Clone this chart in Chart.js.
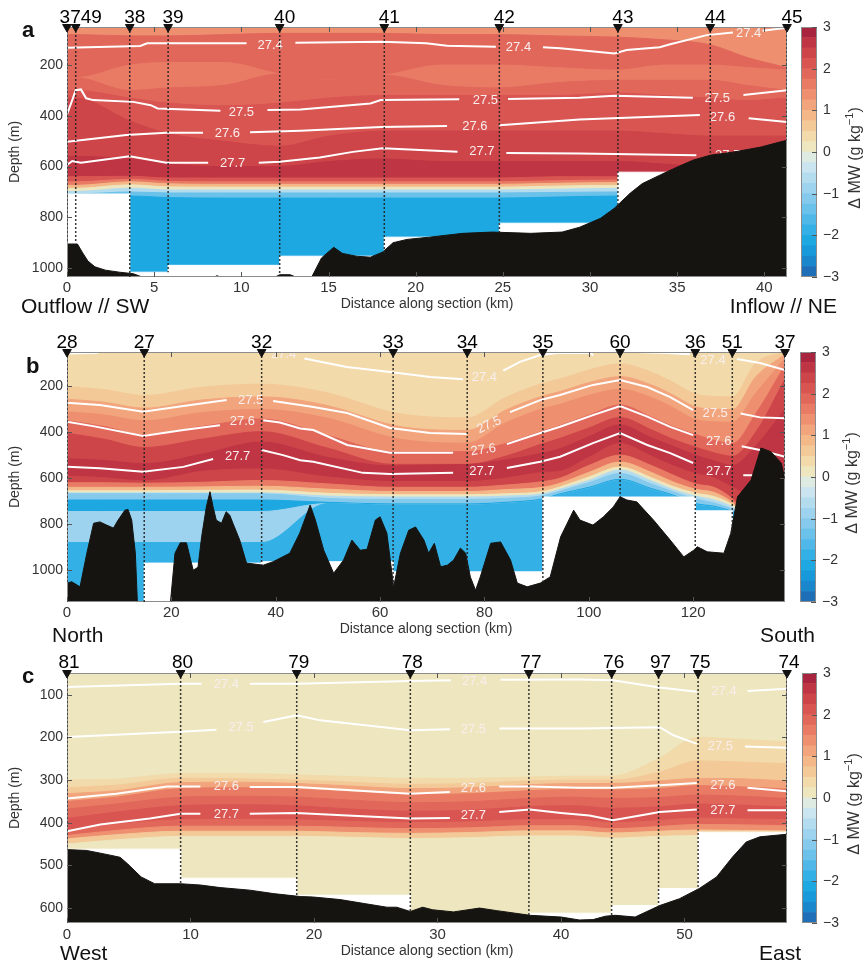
<!DOCTYPE html>
<html>
<head>
<meta charset="utf-8">
<title>MW sections</title>
<script src="https://cdn.jsdelivr.net/npm/chart.js@4.4.1/dist/chart.umd.min.js"></script>
<style>
  body { margin: 0; background: #fff; }
  #page { position: relative; width: 865px; height: 965px; overflow: hidden; }
  #page canvas { position: absolute; }
</style>
</head>
<body>
<div id="page">
  <canvas id="secA" width="865" height="320" style="left:0;top:0"></canvas>
  <canvas id="secB" width="865" height="330" style="left:0;top:320px"></canvas>
  <canvas id="secC" width="865" height="315" style="left:0;top:650px"></canvas>
  <canvas id="cbA" width="75" height="320" style="left:790px;top:0"></canvas>
  <canvas id="cbB" width="75" height="330" style="left:790px;top:320px"></canvas>
  <canvas id="cbC" width="75" height="315" style="left:790px;top:650px"></canvas>
</div>
<script>
const FONT = "'Liberation Sans', Arial, Helvetica, sans-serif";
Chart.defaults.font.family = FONT;
Chart.defaults.color = '#333';

// colour scale, from -3 up to +3 g/kg in 0.25 steps
const cbEdges = [-3, -2.75, -2.5, -2.25, -2, -1.75, -1.5, -1.25, -1, -0.75, -0.5, -0.25, 0,
                 0.25, 0.5, 0.75, 1, 1.25, 1.5, 1.75, 2, 2.25, 2.5, 2.75, 3];
const cbColors = ['#1f6fb8', '#1a86cc', '#189ada', '#1da8e2', '#33b0e6', '#4fb8e8', '#6ac1ea', '#85caec',
                  '#9dd3ee', '#b4dcef', '#cae5ef', '#ddebe2', '#eee6be', '#f2daaa', '#f4c998', '#f4b888',
                  '#f2a57c', '#ee9070', '#e97b65', '#e2675b', '#d95552', '#ce4549', '#bf3544', '#a8243f'];
const cbTicks = [-3, -2, -1, 0, 1, 2, 3];

// ---------- panel a ----------
const aDistTicks = [0, 5, 10, 15, 20, 25, 30, 35, 40];
const aDepthTicks = [200, 400, 600, 800, 1000];
const aStationX = [0, 0.5, 3.6, 5.8, 12.2, 18.2, 24.8, 31.6, 36.9, 41.3];
const aStationLabels = ['', '3749', '38', '39', '40', '41', '42', '43', '44', '45'];
const aStationBottom = [898, 898, 1035, 1016, 1030, 942, 858, 764, 555, 496];

const aBandX = [0, 0.5, 3.6, 5.8, 9, 12.2, 15, 18.2, 21.5, 24.8, 28, 31.6, 34.2, 36.9, 39, 41.3];
const aBandLevels = [1.4, 1.9, 1.55, 1.9, 2.1, 2.3, 2.55, 2.2, 1.6, 0.8, 0.1, -0.6, -1.4, -2.15];
const aBandDepths = [
  [50, 50, 50, 50, 50, 50, 50, 50, 50, 50, 50, 50, 50, 50, 50, 50],
  [80, 80, 85, 85, 80, 75, 75, 75, 80, 80, 85, 90, 100, 120, 170, 210],
  [250, 250, 200, 190, 190, 235, 260, 240, 200, 200, 210, 220, 200, 200, 210, 220],
  [250, 250, 300, 290, 280, 235, 260, 240, 280, 290, 270, 260, 260, 260, 280, 300],
  [300, 300, 330, 350, 360, 350, 330, 320, 320, 320, 320, 310, 320, 330, 340, 330],
  [330, 330, 420, 470, 500, 520, 480, 460, 460, 460, 460, 460, 470, 480, 480, 480],
  [560, 560, 570, 590, 600, 600, 580, 570, 580, 580, 580, 580, 590, 600, 600, 600],
  [640, 640, 638, 645, 645, 645, 645, 645, 645, 645, 640, 640, 640, 640, 640, 640],
  [660, 660, 650, 658, 660, 660, 660, 660, 660, 660, 656, 653, 653, 653, 653, 653],
  [674, 674, 660, 668, 670, 670, 670, 670, 670, 670, 666, 663, 663, 663, 663, 663],
  [686, 686, 672, 680, 681, 681, 681, 681, 681, 681, 677, 674, 674, 674, 674, 674],
  [698, 698, 685, 692, 692, 692, 692, 692, 692, 692, 689, 686, 686, 686, 686, 686],
  [708, 708, 700, 704, 704, 704, 704, 704, 704, 704, 702, 700, 700, 700, 700, 700],
  [720, 720, 716, 722, 724, 724, 724, 724, 724, 724, 720, 716, 716, 716, 716, 716]
];

const aC274 = [[0, 132], [4.2, 125], [4.6, 114], [10.3, 114], [10.3, null], [13.1, 112], [18.1, 108], [20.6, 114],
  [21.8, 124], [24.6, 128], [24.6, null], [27.3, 130], [28.3, 134], [31.4, 154], [32.1, 141], [34, 130], [34.6, 118],
  [36.7, 82], [38.2, 72], [38.2, null], [39.9, 65], [41.3, 53]];
const aC275 = [[0, 394], [0.3, 338], [0.5, 299], [0.8, 296], [1.1, 331], [1.5, 338], [3.8, 345], [4.8, 358], [5.2, 371],
  [8.8, 380], [8.8, null], [11.5, 377], [13.4, 375], [17.4, 351], [18, 338], [22.5, 335], [22.5, null], [25.3, 334],
  [29.4, 329], [31.4, 321], [35.9, 329], [35.9, null], [38.8, 318], [41.3, 299]];
const aC276 = [[0, 502], [3.4, 476], [5.7, 467], [7.8, 467], [7.8, null], [10.5, 465], [13.4, 459], [18, 444], [21.8, 440],
  [21.8, null], [24.8, 437], [29.4, 414], [36.3, 397], [36.3, null], [39.1, 410], [41.3, 424]];
const aC277 = [[0, 594], [0.3, 578], [0.8, 585], [3.6, 559], [5.7, 585], [8.1, 585], [8.1, null], [11, 585], [12.2, 581],
  [14.5, 564], [16.4, 542], [18.1, 528], [22.4, 542], [22.4, null], [25.2, 546], [29.4, 548], [36.1, 555]];
const aContourLabels = [[11.65, 121, '27.4'], [25.9, 131, '27.4'], [39.1, 75, '27.4'],
  [10.0, 387, '27.5'], [24.0, 338, '27.5'], [37.3, 331, '27.5'],
  [9.2, 468, '27.6'], [23.4, 443, '27.6'], [37.6, 406, '27.6'],
  [9.5, 588, '27.7'], [23.8, 542, '27.7'], [37.9, 556, '27.7']];

const aMaskX = [0, 3.6, 5.8, 12.2, 18.2, 24.8, 31.6, 41.3];
const aMaskY = [708, 1016, 989, 953, 878, 823, 622, 622];
const aBathy = [[0, 905], [0.6, 905], [0.9, 940], [1.2, 972], [1.6, 995], [2.2, 1008], [3, 1016], [3.8, 1022], [4.5, 1040],
  [8.3, 1040], [8.6, 1030], [9, 1040], [11.8, 1040], [12.2, 1026], [12.8, 1026], [13.3, 1040], [14, 1040], [14.6, 960],
  [15.3, 918], [15.8, 942], [16.6, 953], [17.4, 957], [18.1, 937], [18.7, 900], [19.5, 887], [20.8, 878], [22.7, 863],
  [24.4, 858], [26.6, 863], [28.4, 858], [29.4, 839], [30.6, 804], [31.4, 764], [32.3, 705], [33, 667], [34, 634],
  [35, 602], [35.9, 575], [36.9, 555], [38.2, 543], [39.8, 523], [40.9, 503], [41.3, 496]];

// ---------- panel b ----------
const bDistTicks = [0, 20, 40, 60, 80, 100, 120];
const bDepthTicks = [200, 400, 600, 800, 1000];
const bStationX = [0, 14.8, 37.3, 62.5, 76.7, 91.2, 106, 120.4, 127.5, 137.6];
const bStationLabels = ['28', '27', '32', '33', '34', '35', '60', '36', '51', '37'];
const bStationBottom = [1056, 1138, 975, 1072, 1000, 1045, 681, 898, 840, 608];

const bBandX = [0, 7, 14.8, 26, 37.3, 50, 62.5, 70, 76.7, 84, 91.2, 94.5, 100, 106, 112, 116, 120.4, 124, 127.5, 132, 137.6];
const bBandLevels = [0.35, 0.7, 1.1, 1.4, 1.95, 2.3, 2.55, 2.3, 1.6, 0.85, 0.1, -0.6, -1.1, -2.05, -0.8, -1.9];
const bBandDepths = [
  [52, 52, 52, 52, 52, 52, 52, 52, 52, 52, 52, 52, 52, 52, 52, 52, 52, 52, 52, 52, 52],
  [202, 215, 241, 205, 192, 230, 315, 335, 338, 250, 188, 169, 130, 104, 140, 182, 235, 245, 247, 100, 52],
  [257, 270, 296, 260, 247, 285, 370, 390, 393, 305, 243, 224, 185, 159, 195, 237, 290, 300, 302, 160, 62],
  [312, 325, 351, 315, 302, 340, 425, 445, 448, 360, 298, 279, 240, 214, 250, 292, 345, 355, 357, 230, 80],
  [350, 375, 412, 375, 343, 415, 485, 485, 485, 450, 395, 372, 327, 282, 335, 375, 410, 435, 450, 320, 110],
  [405, 430, 467, 430, 398, 470, 540, 540, 540, 505, 450, 427, 382, 337, 390, 430, 465, 490, 505, 400, 170],
  [516, 523, 537, 495, 443, 510, 547, 543, 541, 521, 491, 472, 420, 369, 425, 460, 500, 525, 545, 460, 300],
  [591, 598, 612, 570, 560, 595, 615, 615, 615, 600, 575, 570, 510, 450, 505, 545, 580, 600, 640, 700, 800],
  [620, 620, 622, 618, 610, 625, 640, 640, 640, 630, 615, 600, 545, 500, 545, 585, 625, 640, 690, 800, 800],
  [640, 640, 640, 638, 635, 648, 658, 658, 658, 650, 640, 622, 575, 530, 575, 615, 648, 662, 705, 800, 800],
  [655, 655, 655, 653, 652, 666, 672, 672, 672, 668, 658, 638, 595, 552, 598, 635, 665, 680, 715, 800, 800],
  [664, 664, 664, 664, 664, 678, 682, 682, 682, 678, 668, 648, 610, 565, 612, 648, 678, 695, 725, 800, 800],
  [668, 668, 668, 668, 668, 688, 692, 692, 692, 688, 676, 656, 620, 580, 625, 658, 690, 708, 735, 800, 800],
  [695, 695, 695, 695, 695, 705, 712, 712, 712, 705, 690, 668, 640, 605, 645, 672, 710, 722, 745, 800, 800],
  [745, 745, 745, 745, 745, 710, 717, 717, 717, 710, 695, 673, 645, 610, 650, 677, 715, 727, 750, 805, 805],
  [880, 880, 880, 880, 880, 710, 717, 717, 717, 710, 695, 673, 645, 610, 650, 677, 715, 727, 750, 805, 805]
];

const bC274 = [[0, 58], [6, 55], [6, null], [45.5, 80], [53.6, 117], [61.9, 139], [69.6, 161], [75.9, 170], [75.9, null],
  [83.6, 133], [86.8, 95], [90.7, 65], [93.9, 56], [100.4, 55], [100.8, 68], [100.8, null], [110, 53], [115, 56],
  [119.4, 62], [119.4, null], [128.4, 82], [132.8, 100], [137.6, 130]];
const bC275 = [[0, 272], [6.3, 282], [14.6, 311], [22.3, 287], [30.6, 261], [30.6, null], [39.5, 265], [44.7, 282],
  [47.2, 291], [53.7, 317], [61.9, 382], [69.6, 404], [76.7, 408], [76.7, null], [84.9, 313], [90.7, 261], [94.5, 239],
  [100.8, 195], [106, 174], [111.2, 204], [115.6, 248], [120, 304], [120, null], [129.1, 319], [132.8, 336], [137.6, 340]];
const bC276 = [[0, 355], [5, 374], [14.6, 417], [22.3, 391], [29.3, 370], [29.3, null], [37.6, 348], [40.8, 358],
  [44.7, 384], [47.2, 391], [53.7, 456], [61.9, 490], [74, 490], [74, null], [84.3, 452], [90.7, 404], [94.5, 377],
  [100.8, 326], [106, 287], [111.2, 333], [115.6, 377], [120, 413], [120, null], [129.3, 461], [132.8, 478], [137.6, 507]];
const bC277 = [[0, 551], [6.3, 557], [14.6, 572], [22.3, 551], [28, 517], [28, null], [37.3, 478], [41.4, 500],
  [44.7, 522], [47.2, 529], [56.7, 577], [61.9, 582], [74, 577], [74, null], [84.3, 556], [90.7, 529], [94.5, 507],
  [100.8, 448], [106, 404], [111.2, 456], [115.6, 491], [120, 534], [120, null], [129.6, 587], [133, 587]];
const bContourLabels = [[41.5, 62, '27.4'], [80, 163, '27.4'], [123.8, 87, '27.4'],
  [35.2, 261, '27.5'], [80.9, 369, '27.5', -25], [124.2, 318, '27.5'],
  [33.6, 355, '27.6'], [79.8, 478, '27.6', -8], [124.9, 442, '27.6'],
  [32.7, 507, '27.7'], [79.5, 572, '27.7'], [124.9, 572, '27.7']];

const bMaskX = [0, 14.8, 37.3, 62.5, 91.2, 120.4, 127.5, 137.6];
const bMaskY = [1145, 969, 963, 1007, 682, 742, 1145, 1145];
const bBathy = [[0, 1056], [0.9, 1050], [2.5, 1072], [3.8, 926], [5.1, 796], [6.3, 790], [7.6, 804], [8.9, 817],
  [9.8, 782], [11.1, 739], [11.7, 736], [12.4, 782], [13.1, 926], [13.5, 1145], [19.8, 1145], [20.7, 926], [21.7, 881],
  [22.9, 881], [23.7, 956], [24.2, 1000], [25.1, 987], [25.8, 855], [26.7, 725], [27.4, 659], [28, 725], [28.6, 782],
  [29.6, 796], [30.5, 746], [31.2, 761], [31.8, 796], [33.1, 869], [34.4, 969], [37.6, 978], [39.5, 963], [42.7, 926],
  [44.6, 839], [45.3, 796], [46.6, 717], [47.6, 782], [49.2, 913], [51.1, 1013], [53, 956], [54.6, 869], [56.2, 913],
  [57.5, 909], [59.1, 782], [60, 768], [61.3, 839], [62.6, 1072], [63.9, 926], [65.5, 826], [66.8, 812], [68.4, 869],
  [69.3, 926], [70.4, 883], [71.6, 985], [72.9, 978], [74.1, 956], [75.4, 904], [76.4, 926], [77.3, 1029], [78.3, 1087],
  [79.2, 1029], [81.2, 883], [83.1, 877], [85, 956], [86.3, 1056], [88.2, 1072], [90.7, 1056], [92.6, 1029], [94.6, 855],
  [97.1, 739], [98.3, 782], [100.8, 804], [102.8, 768], [104.7, 725], [106, 681], [107.3, 695], [109.2, 703],
  [112.4, 782], [115.6, 869], [118.2, 942], [120.1, 913], [120.8, 898], [122.7, 920], [125.9, 926], [127.2, 840],
  [128.5, 681], [131.1, 608], [133, 469], [134.9, 485], [136.9, 535], [137.6, 608]];

// ---------- panel c ----------
const cDistTicks = [0, 10, 20, 30, 40, 50];
const cDepthTicks = [100, 200, 300, 400, 500, 600];
const cStationX = [0, 9.2, 18.6, 27.8, 37.4, 44.1, 47.9, 51.1, 58.3];
const cStationLabels = ['81', '80', '79', '78', '77', '76', '97', '75', '74'];
const cStationBottom = [463, 545, 573, 608, 617, 619, 594, 554, 427];

const cBandX = [0, 4, 9.2, 14, 18.6, 23, 27.8, 32.6, 37.4, 41, 44.1, 47.9, 51.1, 54.7, 58.3];
const cBandLevels = [0.1, 0.4, 0.65, 1.1, 1.6, 1.95, 2.2, 1.9, 1.3, 0.65, 0.1];
const cBandDepths = [
  [49, 49, 49, 49, 49, 49, 49, 49, 49, 49, 49, 49, 49, 49, 49],
  [300, 298, 285, 285, 288, 292, 296, 296, 293, 291, 291, 250, 200, 205, 210],
  [318, 312, 296, 297, 300, 305, 310, 308, 302, 300, 300, 282, 255, 258, 262],
  [332, 325, 306, 305, 308, 314, 320, 318, 311, 308, 308, 302, 296, 297, 302],
  [350, 340, 320, 318, 321, 328, 334, 332, 325, 322, 323, 320, 313, 316, 321],
  [368, 356, 340, 338, 340, 347, 353, 351, 343, 340, 343, 341, 335, 338, 343],
  [390, 375, 360, 358, 360, 368, 373, 371, 362, 360, 366, 363, 356, 359, 363],
  [418, 404, 393, 392, 393, 397, 400, 398, 393, 393, 400, 395, 389, 391, 393],
  [430, 418, 408, 408, 408, 411, 414, 412, 407, 407, 414, 409, 404, 405, 407],
  [438, 428, 420, 420, 420, 423, 425, 423, 419, 419, 424, 420, 417, 418, 419],
  [450, 440, 432, 432, 432, 434, 437, 435, 431, 431, 436, 432, 430, 430, 431]
];

const cC274 = [[0, 82], [9.2, 74], [10.9, 74], [10.9, null], [14.8, 74], [18.6, 74], [27.8, 68], [31.1, 66], [31.1, null],
  [35.1, 65], [41.5, 64.5], [44.2, 66], [48, 83], [51, 93], [51, null], [55.1, 91], [58.3, 86]];
const cC275 = [[0, 199], [9.2, 187], [12.1, 182], [12.1, null], [15.9, 164], [18.6, 148], [20.5, 160], [27.8, 183],
  [31, 181], [31, null], [35, 179], [41.5, 179], [48, 176], [49.1, 195], [51, 215], [51, null], [54.9, 221], [58.3, 224]];
const cC276 = [[0, 343], [4, 332], [8.1, 315], [10.8, 315], [10.8, null], [14.8, 316], [18.6, 316], [27.8, 332], [31, 328],
  [31, null], [35, 315], [37.5, 315], [41.5, 318], [44.2, 318], [48, 312], [51, 307], [51, null], [55.1, 318], [58.3, 326]];
const cC277 = [[0, 420], [2.7, 404], [6.7, 390], [9.2, 379], [10.8, 379], [10.8, null], [14.8, 379], [18.6, 377],
  [22.7, 383], [27.8, 390], [31, 389], [31, null], [35, 375], [37.5, 369], [40, 377], [42.3, 383], [44.2, 394],
  [46.4, 383], [48, 375], [51, 369], [51, null], [55.1, 371], [58.3, 371]];
const cContourLabels = [[12.9, 76, '27.4'], [33, 68, '27.4'], [53.2, 93, '27.4'],
  [14.1, 177, '27.5'], [32.9, 181, '27.5'], [52.9, 220, '27.5'],
  [12.9, 316, '27.6'], [32.9, 320, '27.6'], [53.1, 312, '27.6'],
  [12.9, 380, '27.7'], [32.9, 383, '27.7'], [53.1, 372, '27.7']];

const cMaskX = [0, 9.2, 18.6, 27.8, 37.4, 44.1, 47.9, 51.1, 58.3];
const cMaskY = [462, 530, 570, 640, 612, 594, 554, 422, 422];
const cBathy = [[0, 463], [1.6, 465], [3.5, 476], [4.3, 481], [4.9, 496], [6, 527], [7.1, 543], [9.2, 543], [10.8, 546],
  [12.4, 552], [14.8, 558], [16.7, 566], [18.9, 573], [19.9, 574], [22.1, 580], [24.2, 590], [25.9, 598], [26.7, 598],
  [27.8, 608], [28.8, 598], [29.6, 604], [31.3, 609], [33.4, 600], [34.8, 606], [37.5, 617], [40, 621], [41.5, 628],
  [42.6, 627], [43.6, 619], [44.4, 617], [46, 621], [48, 594], [49.6, 578], [51.2, 554], [52.6, 527], [53.9, 480],
  [55, 445], [56.1, 433], [58.3, 427]];

// ---------- helpers ----------
function levelColor(v) {
  let i = Math.floor((v - cbEdges[0]) / 0.25);
  i = Math.max(0, Math.min(cbColors.length - 1, i));
  return cbColors[i];
}
function pts(xs, ys) { return xs.map((x, i) => ({x: x, y: ys[i]})); }
function pairs(list) { return list.map(p => ({x: p[0], y: p[1]})); }

function labelPlugin(items, afterIndex) {
  return {
    id: 'contourLabels',
    afterDatasetDraw(chart, args) {
      if (args.index !== afterIndex) return;
      const {ctx, chartArea: a, scales} = chart;
      ctx.save();
      ctx.beginPath(); ctx.rect(a.left, a.top, a.width, a.height); ctx.clip();
      ctx.font = '13px ' + FONT;
      ctx.fillStyle = '#f8eeee';
      ctx.textAlign = 'center';
      ctx.textBaseline = 'middle';
      items.forEach(it => {
        ctx.save();
        ctx.translate(scales.x.getPixelForValue(it[0]), scales.y.getPixelForValue(it[1]));
        if (it[3]) ctx.rotate(it[3] * Math.PI / 180);
        ctx.fillText(it[2], 0, 0);
        ctx.restore();
      });
      ctx.restore();
    }
  };
}

// box round the plot with small inward ticks
function framePlugin(afterIndex, sides) {
  function draw(chart) {
    const {ctx, chartArea: a} = chart;
    ctx.save();
    ctx.strokeStyle = '#8c8c8c';
    ctx.lineWidth = 1;
    ctx.strokeRect(a.left + 0.5, a.top + 0.5, a.width - 1, a.height - 1);
    ctx.strokeStyle = '#555';
    ctx.beginPath();
    if (sides.x) {
      const sx = chart.scales.x;
      sx.ticks.forEach(t => {
        const px = Math.round(sx.getPixelForValue(t.value)) + 0.5;
        ctx.moveTo(px, a.top); ctx.lineTo(px, a.top + 5);
        ctx.moveTo(px, a.bottom); ctx.lineTo(px, a.bottom - 5);
      });
    }
    if (sides.y) {
      const sy = chart.scales.y;
      sy.ticks.forEach(t => {
        const py = Math.round(sy.getPixelForValue(t.value)) + 0.5;
        if (sides.y !== 'right') { ctx.moveTo(a.left, py); ctx.lineTo(a.left + 5, py); }
        ctx.moveTo(a.right, py); ctx.lineTo(a.right - 5, py);
      });
    }
    ctx.stroke();
    ctx.restore();
  }
  return {
    id: 'frame',
    afterDatasetDraw(chart, args) { if (args.index === afterIndex) draw(chart); },
    afterDatasetsDraw(chart) { if (afterIndex < 0) draw(chart); }
  };
}

function decorPlugin(texts) {
  return {
    id: 'decor',
    afterDraw(chart) {
      const ctx = chart.ctx;
      ctx.save();
      ctx.fillStyle = '#111';
      ctx.textBaseline = 'alphabetic';
      texts.forEach(t => {
        ctx.font = t.font;
        ctx.textAlign = t.align;
        ctx.fillText(t.text, t.x, t.y);
      });
      ctx.restore();
    }
  };
}

function buildDatasets(p) {
  const sets = [];
  p.bandDepths.forEach((depths, k) => {
    const c = levelColor(p.bandLevels[k]);
    sets.push({data: pts(p.bandX, depths), backgroundColor: c, borderColor: c, borderWidth: 1,
      fill: {value: p.yMax}, cubicInterpolationMode: 'monotone', pointRadius: 0});
  });
  p.contours.forEach(line => {
    sets.push({data: pairs(line), borderColor: '#ffffff', borderWidth: 2, fill: false, pointRadius: 0});
  });
  const labelIndex = sets.length - 1;
  // no-data area below the deepest cast
  sets.push({data: pts(p.maskX, p.maskY), stepped: true, backgroundColor: '#ffffff', borderColor: '#ffffff',
    borderWidth: 1, fill: {value: p.yMax}, pointRadius: 0});
  sets.push({data: pairs(p.bathy), backgroundColor: '#151411', borderColor: '#151411', borderWidth: 1,
    fill: {value: p.yMax}, pointRadius: 0});
  const bathyIndex = sets.length - 1;
  const dots = [];
  p.stX.forEach((x, i) => { dots.push({x: x, y: p.yMin}, {x: x, y: p.stBottom[i]}, {x: x, y: null}); });
  sets.push({data: dots, borderColor: 'rgba(35,35,35,0.9)', borderWidth: 1.5, borderDash: [2, 2], fill: false, pointRadius: 0});
  sets.push({data: p.stX.map(x => ({x: x, y: p.yMin})), showLine: false, pointStyle: 'triangle', pointRotation: 180,
    pointRadius: 5, backgroundColor: '#111', borderColor: '#111', borderWidth: 1, clip: false});
  sets.forEach((s, i) => { s.order = sets.length - i; s.xAxisID = 'x'; s.yAxisID = 'y'; });
  return {sets: sets, labelIndex: labelIndex, bathyIndex: bathyIndex};
}

function section(id, p) {
  const built = buildDatasets(p);
  return new Chart(document.getElementById(id), {
    type: 'line',
    data: {datasets: built.sets},
    options: {
      responsive: false,
      animation: false,
      events: [],
      layout: {padding: {left: 0, right: p.box.right, top: 0, bottom: 0}},
      plugins: {legend: {display: false}, tooltip: {enabled: false}},
      scales: {
        x: {
          type: 'linear', position: 'bottom', min: 0, max: p.xMax,
          afterBuildTicks: s => { s.ticks = p.xTicks.map(v => ({value: v})); },
          ticks: {callback: v => String(v), font: {size: 15}, color: '#333', padding: p.tickPad, maxRotation: 0, autoSkip: false},
          grid: {display: false, drawTicks: false},
          border: {display: false},
          title: {display: true, text: 'Distance along section (km)', font: {size: 14}, color: '#333',
            padding: {top: 0, bottom: p.titlePad}},
          afterFit: s => { s.height = p.box.bottom; }
        },
        xs: {
          type: 'linear', position: 'top', min: 0, max: p.xMax,
          afterBuildTicks: s => { s.ticks = p.stX.map(v => ({value: v})); },
          ticks: {callback: (v, i) => p.stLabels[i], font: {size: 19, lineHeight: 1}, color: '#000',
            padding: p.stPad, labelOffset: p.stOffset, maxRotation: 0, autoSkip: false},
          grid: {display: false, drawTicks: false},
          border: {display: false},
          afterFit: s => { s.height = p.box.top; }
        },
        y: {
          type: 'linear', reverse: true, min: p.yMin, max: p.yMax,
          afterBuildTicks: s => { s.ticks = p.yTicks.map(v => ({value: v})); },
          ticks: {callback: v => String(v), font: {size: 14}, color: '#333', padding: 4, autoSkip: false},
          grid: {display: false, drawTicks: false},
          border: {display: false},
          title: {display: true, text: 'Depth (m)', font: {size: 14}, color: '#333', padding: {top: 7, bottom: 0}},
          afterFit: s => { s.width = 67; }
        }
      }
    },
    plugins: [labelPlugin(p.labels, built.labelIndex), framePlugin(built.bathyIndex, {x: true, y: true}), decorPlugin(p.texts)]
  });
}

function colorbar(id, pad, titleX) {
  return new Chart(document.getElementById(id), {
    type: 'bar',
    data: {
      labels: [''],
      datasets: cbColors.map((c, i) => ({
        data: [[cbEdges[i], cbEdges[i + 1]]], backgroundColor: c, borderWidth: 0,
        grouped: false, barPercentage: 1, categoryPercentage: 1
      }))
    },
    options: {
      responsive: false,
      animation: false,
      events: [],
      layout: {padding: {left: pad.left, top: pad.top, bottom: pad.bottom, right: 0}},
      plugins: {legend: {display: false}, tooltip: {enabled: false}},
      scales: {
        x: {display: false},
        y: {
          position: 'right', min: -3, max: 3,
          afterBuildTicks: s => { s.ticks = cbTicks.map(v => ({value: v})); },
          ticks: {callback: v => (v < 0 ? '\u2212' + Math.abs(v) : String(v)), font: {size: 14}, color: '#333', padding: 6},
          grid: {display: false, drawTicks: false},
          border: {display: false},
          afterFit: s => { s.width = pad.axis; }
        }
      }
    },
    plugins: [framePlugin(-1, {y: 'right'}), {
      id: 'cbTitle',
      afterDraw(chart) {
        const ctx = chart.ctx, a = chart.chartArea;
        const main = '\u0394 MW (g kg', sup = '\u22121', end = ')';
        ctx.save();
        ctx.translate(titleX, (a.top + a.bottom) / 2 + 6);
        ctx.rotate(-Math.PI / 2);
        ctx.fillStyle = '#333';
        ctx.textBaseline = 'middle';
        ctx.textAlign = 'left';
        ctx.font = '16px ' + FONT;
        const w1 = ctx.measureText(main).width, w3 = ctx.measureText(end).width;
        ctx.font = '11px ' + FONT;
        const w2 = ctx.measureText(sup).width;
        let x = -(w1 + w2 + w3) / 2;
        ctx.font = '16px ' + FONT; ctx.fillText(main, x, 0); x += w1;
        ctx.font = '11px ' + FONT; ctx.fillText(sup, x, -6); x += w2;
        ctx.font = '16px ' + FONT; ctx.fillText(end, x, 0);
        ctx.restore();
      }
    }]
  });
}

const bigFont = '21px ' + FONT, letterFont = 'bold 22px ' + FONT;

section('secA', {
  xMax: 41.3, yMin: 50, yMax: 1035, xTicks: aDistTicks, yTicks: aDepthTicks,
  bandX: aBandX, bandLevels: aBandLevels, bandDepths: aBandDepths,
  contours: [aC274, aC275, aC276, aC277], labels: aContourLabels,
  maskX: aMaskX, maskY: aMaskY, bathy: aBathy,
  stX: aStationX, stLabels: aStationLabels, stBottom: aStationBottom,
  box: {top: 27, bottom: 43, right: 78}, stPad: 0, stOffset: 5, tickPad: 2, titlePad: 7,
  texts: [
    {text: 'a', x: 22, y: 37, font: letterFont, align: 'left'},
    {text: 'Outflow // SW', x: 21, y: 313, font: bigFont, align: 'left'},
    {text: 'Inflow // NE', x: 837, y: 313, font: bigFont, align: 'right'}
  ]
});

section('secB', {
  xMax: 137.6, yMin: 52, yMax: 1138, xTicks: bDistTicks, yTicks: bDepthTicks,
  bandX: bBandX, bandLevels: bBandLevels, bandDepths: bBandDepths,
  contours: [bC274, bC275, bC276, bC277], labels: bContourLabels,
  maskX: bMaskX, maskY: bMaskY, bathy: bBathy,
  stX: bStationX, stLabels: bStationLabels, stBottom: bStationBottom,
  box: {top: 32, bottom: 48, right: 80}, stPad: 0, stOffset: 0, tickPad: 2, titlePad: 12,
  texts: [
    {text: 'b', x: 26, y: 53, font: letterFont, align: 'left'},
    {text: 'North', x: 52, y: 322, font: bigFont, align: 'left'},
    {text: 'South', x: 815, y: 322, font: bigFont, align: 'right'}
  ]
});

section('secC', {
  xMax: 58.3, yMin: 49, yMax: 635, xTicks: cDistTicks, yTicks: cDepthTicks,
  bandX: cBandX, bandLevels: cBandLevels, bandDepths: cBandDepths,
  contours: [cC274, cC275, cC276, cC277], labels: cContourLabels,
  maskX: cMaskX, maskY: cMaskY, bathy: cBathy,
  stX: cStationX, stLabels: cStationLabels, stBottom: cStationBottom,
  box: {top: 23, bottom: 42, right: 78}, stPad: 1, stOffset: 2, tickPad: 3, titlePad: 5,
  texts: [
    {text: 'c', x: 22, y: 33, font: letterFont, align: 'left'},
    {text: 'West', x: 60, y: 310, font: bigFont, align: 'left'},
    {text: 'East', x: 801, y: 310, font: bigFont, align: 'right'}
  ]
});

colorbar('cbA', {left: 11, top: 27, bottom: 43, axis: 48}, 66);
colorbar('cbB', {left: 10, top: 32, bottom: 48, axis: 49}, 63);
colorbar('cbC', {left: 12, top: 23, bottom: 42, axis: 48}, 65);
</script>
</body>
</html>
